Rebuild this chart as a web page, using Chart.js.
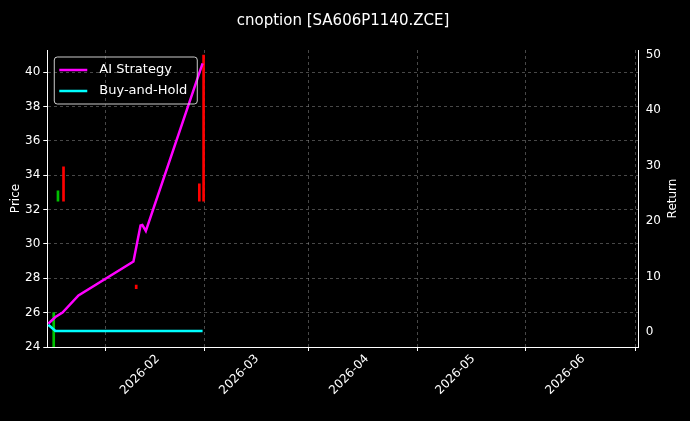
<!DOCTYPE html>
<html>
<head>
<script src="https://cdn.jsdelivr.net/npm/chart.js@4"></script>
<style>
body { margin: 0; background: #000; }
#wrap { width: 690px; height: 421px; }
</style>
</head>
<body>
<div id="wrap"><canvas id="myChart"></canvas></div>
<script>
// days counted from 2026-01-01 (day 0)
var stratDays = [1, 3, 5, 9.5, 25, 27, 27.5, 28.5, 44.5];
var stratReturn = [1.5, 2.7, 3.5, 6.6, 12.7, 19.2, 19.3, 18.2, 48.4];
var holdDays = [1, 3, 44.5];
var holdReturn = [1.3, 0.2, 0.2];
// thin price bars: day, low, high
var upDays = [2.8, 4];
var upLow = [24, 32.5];
var upHigh = [26, 33.1];
var downDays = [5, 25.5, 43.3, 44.5];
var downLow = [32.5, 27.4, 32.5, 32.5];
var downHigh = [34.5, 27.6, 33.5, 41];
var tickDays = [31, 59, 90, 120, 151];
var tickLabels = ['2026-02', '2026-03', '2026-04', '2026-05', '2026-06'];

function pts(xs, ys) { return xs.map(function (x, i) { return { x: x, y: ys[i] }; }); }
function bars(xs, lo, hi) { return xs.map(function (x, i) { return { x: x, y: [lo[i], hi[i]] }; }); }

var FONT = '12px "DejaVu Sans"';
var extras = {
    id: 'extras',
    afterDraw: function (chart) {
        var c = chart.ctx, a = chart.chartArea;
        c.save();
        // legend
        var x = a.left + 7, y = a.top + 7;
        c.strokeStyle = '#ccc'; c.lineWidth = 1;
        c.beginPath(); c.roundRect(x, y, 143, 47, 3); c.stroke();
        c.font = '13px "DejaVu Sans"'; c.fillStyle = '#fff'; c.textBaseline = 'middle';
        [['AI Strategy', '#ff00ff'], ['Buy-and-Hold', '#00ffff']].forEach(function (it, i) {
            var yy = y + 13 + i * 21;
            c.strokeStyle = it[1]; c.lineWidth = 2.5;
            c.beginPath(); c.moveTo(x + 5, yy); c.lineTo(x + 33, yy); c.stroke();
            c.fillText(it[0], x + 45, yy);
        });
        // rotated date labels, right end at tick
        c.font = FONT; c.textAlign = 'right'; c.textBaseline = 'middle';
        tickDays.forEach(function (d, i) {
            var px = chart.scales.x.getPixelForValue(d);
            c.save();
            c.translate(px + 3, a.bottom + 10);
            c.rotate(-Math.PI / 4);
            c.fillText(tickLabels[i], 0, 0);
            c.restore();
        });
        // axis titles, both read bottom-to-top
        c.textAlign = 'center';
        [['Price', 16], ['Return', 673]].forEach(function (t) {
            c.save();
            c.translate(t[1], (a.top + a.bottom) / 2);
            c.rotate(-Math.PI / 2);
            c.fillText(t[0], 0, 0);
            c.restore();
        });
        c.restore();
    }
};

var ctx = document.getElementById('myChart').getContext('2d');
var grid = { color: 'rgba(160,160,160,0.45)', drawTicks: true, tickColor: '#fff', tickLength: 4 };
var border = { color: '#fff', dash: [3, 3] };
var chart = new Chart(ctx, {
    type: 'bar',
    data: {
        datasets: [
            { type: 'line', label: 'AI Strategy', data: pts(stratDays, stratReturn), yAxisID: 'yR',
              borderColor: '#ff00ff', borderWidth: 2.5, pointRadius: 0, tension: 0 },
            { type: 'line', label: 'Buy-and-Hold', data: pts(holdDays, holdReturn), yAxisID: 'yR',
              borderColor: '#00ffff', borderWidth: 2.5, pointRadius: 0, tension: 0 },
            { label: 'up', data: bars(upDays, upLow, upHigh), yAxisID: 'y',
              backgroundColor: '#00c000', barThickness: 2 },
            { label: 'down', data: bars(downDays, downLow, downHigh), yAxisID: 'y',
              backgroundColor: '#ff0000', barThickness: 2 }
        ]
    },
    options: {
        responsive: true, maintainAspectRatio: false, animation: false,
        layout: { padding: { top: 6, right: 26, left: 22, bottom: 70 } },
        plugins: {
            legend: { display: false }, tooltip: { enabled: false },
            title: { display: true, text: 'cnoption [SA606P1140.ZCE]', color: '#fff',
                     font: { family: 'DejaVu Sans', size: 15, weight: 'normal' }, padding: { top: 6, bottom: 20 } }
        },
        scales: {
            x: { type: 'linear', min: 0.7, max: 167.5, offset: false, grid: grid, border: border,
                 afterBuildTicks: function (s) { s.ticks = tickDays.map(function (v) { return { value: v }; }); },
                 ticks: { display: false } },
            y: { position: 'left', min: 24, max: 41.3, grid: grid, border: border,
                 afterBuildTicks: function (s) { s.ticks = [24, 26, 28, 30, 32, 34, 36, 38, 40].map(function (v) { return { value: v }; }); },
                 ticks: { color: '#fff', font: { family: 'DejaVu Sans', size: 12 } } },
            yR: { position: 'right', min: -2.7, max: 50.8, grid: { display: false, tickColor: '#fff', tickLength: 4 }, border: { color: '#fff' },
                  afterBuildTicks: function (s) { s.ticks = [0, 10, 20, 30, 40, 50].map(function (v) { return { value: v }; }); },
                  ticks: { color: '#fff', font: { family: 'DejaVu Sans', size: 12 } } }
        }
    },
    plugins: [extras]
});
</script>
</body>
</html>
